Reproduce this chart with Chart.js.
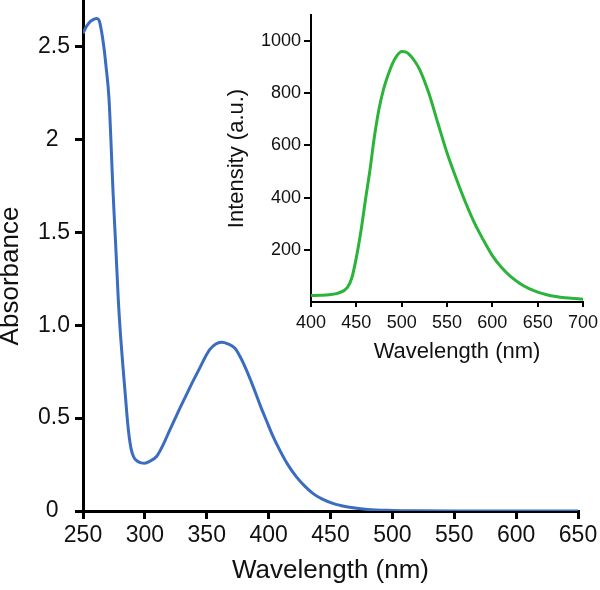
<!DOCTYPE html>
<html>
<head>
<meta charset="utf-8">
<script src="https://cdn.jsdelivr.net/npm/chart.js@4/dist/chart.umd.min.js"></script>
<style>
html,body{margin:0;padding:0;background:#fff;}
#wrap{position:relative;width:600px;height:590px;}
#main{position:absolute;left:0;top:0;}
#inset{position:absolute;left:220px;top:0;}
</style>
</head>
<body>
<div id="wrap">
<canvas id="main" width="600" height="590"></canvas>
<canvas id="inset" width="380" height="370"></canvas>
</div>
<script>
// Absorption spectrum (main)
const absWavelength = [250,253,256,259,261,263,265,267,268.5,271,274.4,276.5,278.5,280.5,282.5,284.5,286,287.5,289,291,294,297,300,304,309.4,315,320.2,327,333.6,339,344.4,348.5,352.4,357,361.9,367,372.6,377,382,386,390,394,398,403,408.9,415,422.3,429,435.7,443,451.9,458,465.3,480,500,520,550,600,650];
const absValues     = [2.57,2.61,2.635,2.647,2.65,2.64,2.58,2.49,2.40,2.22,1.70,1.42,1.14,0.93,0.76,0.60,0.48,0.39,0.33,0.29,0.268,0.259,0.257,0.268,0.293,0.36,0.437,0.535,0.626,0.70,0.77,0.825,0.868,0.897,0.908,0.9,0.877,0.83,0.76,0.695,0.626,0.555,0.49,0.41,0.329,0.255,0.185,0.135,0.095,0.065,0.041,0.03,0.02,0.008,0.003,0.001,0,0,0];
const absYTicks = [0,0.5,1,1.5,2,2.5];
const absYLabels = ["0\u2002","0.5","1.0","1.5","2\u2002","2.5"];
const absXTicks = [250,300,350,400,450,500,550,600,650];

// Emission spectrum (inset)
const emWavelength = [400,410,420,430,440,445,450,455,460,465,470,475,480,485,490,495,500,505,510,515,520,530,540,550,560,570,580,590,600,610,620,630,640,650,660,670,680,690,700,708];
const emValues     = [25,26,28,34,55,92,170,270,390,505,635,740,815,870,915,945,960,958,943,920,890,800,685,572,475,385,305,238,178,133,98,72,52,38,28,21,16,13,11,10];
const emYTicks = [200,400,600,800,1000];
const emXTicks = [400,450,500,550,600,650,700];

const FONT = "'Liberation Sans', Arial, sans-serif";
Chart.defaults.font.family = FONT;
Chart.defaults.color = '#111';

const yTitlePlugin = {
  id: 'yTitleMain',
  afterDraw(chart) {
    const ctx = chart.ctx;
    ctx.save();
    ctx.translate(11, 276);
    ctx.rotate(-Math.PI/2);
    ctx.font = "26px " + FONT;
    ctx.fillStyle = '#111';
    ctx.textAlign = 'center';
    ctx.textBaseline = 'middle';
    ctx.fillText('Absorbance', 0, 0);
    ctx.restore();
  }
};

const insetXTitlePlugin = {
  id: 'insetXTitle',
  afterDraw(chart) {
    const ctx = chart.ctx;
    ctx.save();
    ctx.font = "22px " + FONT;
    ctx.fillStyle = '#111';
    ctx.textAlign = 'center';
    ctx.textBaseline = 'middle';
    ctx.fillText('Wavelength (nm)', 237, 352);
    ctx.restore();
  }
};

const zeroPadY = (w) => (s) => { s.width = w; s.paddingTop = 0; s.paddingBottom = 0; };
const zeroPadX = (h) => (s) => { s.height = h; s.paddingLeft = 0; s.paddingRight = 0; };

new Chart(document.getElementById('main'), {
  type: 'line',
  data: {
    datasets: [{
      data: absWavelength.map((x,i)=>({x:x,y:absValues[i]})),
      borderColor: '#3a6cc0',
      borderWidth: 3,
      pointRadius: 0,
      cubicInterpolationMode: 'monotone',
      fill: false
    }]
  },
  options: {
    responsive: false,
    animation: false,
    events: [],
    layout: { padding: { left: 0, right: 22, top: 0, bottom: 0 } },
    plugins: { legend: { display: false }, tooltip: { enabled: false } },
    scales: {
      x: {
        type: 'linear', min: 250, max: 650,
        afterBuildTicks: s => { s.ticks = absXTicks.map(v=>({value:v})); },
        afterFit: zeroPadX(79),
        border: { display: true, color: '#000', width: 3 },
        grid: { display: true, drawOnChartArea: false, drawTicks: true, tickLength: 8, color: '#000', lineWidth: 3 },
        ticks: { font: { size: 23 }, color: '#111', padding: 3, maxRotation: 0, callback: v => String(v) },
        title: { display: true, text: 'Wavelength (nm)', font: { size: 26 }, color: '#111', padding: { top: 9 } }
      },
      y: {
        type: 'linear', min: 0, max: 2.75,
        afterBuildTicks: s => { s.ticks = absYTicks.map(v=>({value:v})); },
        afterFit: zeroPadY(83),
        border: { display: true, color: '#000', width: 3 },
        grid: { display: true, drawOnChartArea: false, drawTicks: true, tickLength: 8, color: '#000', lineWidth: 3 },
        ticks: { font: { size: 23 }, color: '#111', padding: 5,
          callback: (v) => { const i = absYTicks.indexOf(v); return i >= 0 ? absYLabels[i] : ''; } }
      }
    }
  },
  plugins: [yTitlePlugin]
});

new Chart(document.getElementById('inset'), {
  type: 'line',
  data: {
    datasets: [{
      data: emWavelength.map((x,i)=>({x:x,y:emValues[i]})),
      borderColor: '#2bb33a',
      borderWidth: 3,
      pointRadius: 0,
      cubicInterpolationMode: 'monotone',
      fill: false,
      clip: false
    }]
  },
  options: {
    responsive: false,
    animation: false,
    events: [],
    layout: { padding: { left: 0, right: 17, top: 15, bottom: 0 } },
    plugins: { legend: { display: false }, tooltip: { enabled: false } },
    scales: {
      x: {
        type: 'linear', min: 400, max: 700,
        afterBuildTicks: s => { s.ticks = emXTicks.map(v=>({value:v})); },
        afterFit: zeroPadX(68),
        border: { display: true, color: '#000', width: 2 },
        grid: { display: true, drawOnChartArea: false, drawTicks: true, tickLength: 5, color: '#000', lineWidth: 2 },
        ticks: { font: { size: 18 }, color: '#111', padding: 5, maxRotation: 0, callback: v => String(v) },
        title: { display: false, text: 'Wavelength (nm)' }
      },
      y: {
        type: 'linear', min: 0, max: 1100,
        afterBuildTicks: s => { s.ticks = emYTicks.map(v=>({value:v})); },
        afterFit: zeroPadY(91),
        border: { display: true, color: '#000', width: 2 },
        grid: { display: true, drawOnChartArea: false, drawTicks: true, tickLength: 7, color: '#000', lineWidth: 2 },
        ticks: { font: { size: 18 }, color: '#111', padding: 3, callback: v => String(v) },
        title: { display: true, text: 'Intensity (a.u.)', font: { size: 22 }, color: '#111', padding: { top: 4, bottom: 2 } }
      }
    }
  },
  plugins: [insetXTitlePlugin]
});
</script>
</body>
</html>
